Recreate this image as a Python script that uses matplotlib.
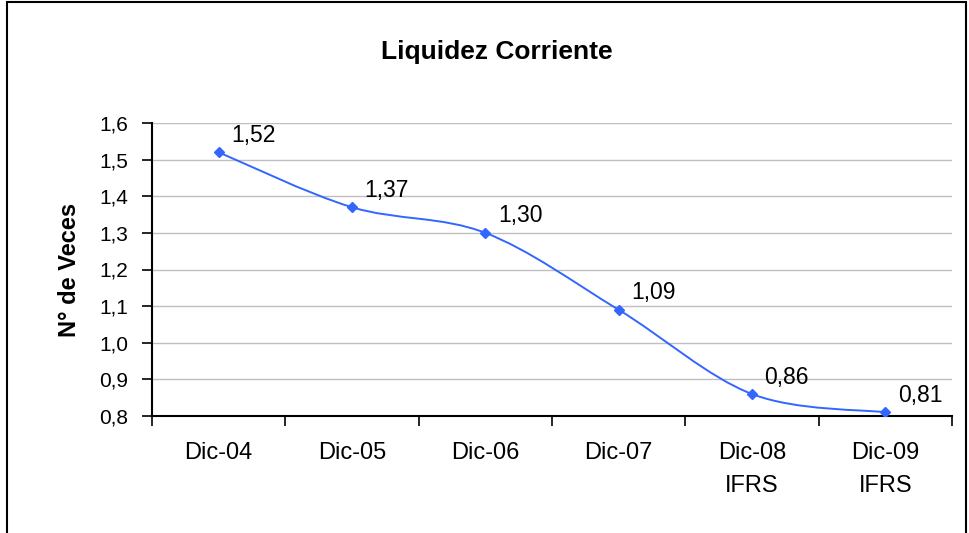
import matplotlib
matplotlib.use("Agg")
import matplotlib.pyplot as plt
from matplotlib.path import Path
from matplotlib.patches import PathPatch, Rectangle
from matplotlib.ticker import FuncFormatter, FixedLocator

categories = ["Dic-04", "Dic-05", "Dic-06", "Dic-07", "Dic-08\nIFRS", "Dic-09\nIFRS"]
values = [1.52, 1.37, 1.30, 1.09, 0.86, 0.81]
title = "Liquidez Corriente"
ylabel = "N° de Veces"

blue = "#3366FF"

plt.rcParams['font.family'] = ['Liberation Sans', 'DejaVu Sans']

fig = plt.figure(figsize=(9.7, 5.33), dpi=100)
ax = fig.add_axes([152/970, 1-416/533, 800/970, 293/533])

xs = list(range(len(values)))

# smoothed line like the spreadsheet one: cubic bezier segments
verts = [(xs[0], values[0])]
codes = [Path.MOVETO]
n = len(values)
for i in range(n-1):
  p0 = (xs[max(i-1, 0)], values[max(i-1, 0)])
  p1 = (xs[i], values[i])
  p2 = (xs[i+1], values[i+1])
  p3 = (xs[min(i+2, n-1)], values[min(i+2, n-1)])
  c1 = (p1[0] + (p2[0]-p0[0])/6, p1[1] + (p2[1]-p0[1])/6)
  c2 = (p2[0] - (p3[0]-p1[0])/6, p2[1] - (p3[1]-p1[1])/6)
  verts += [c1, c2, p2]
  codes += [Path.CURVE4]*3
ax.add_patch(PathPatch(Path(verts, codes), fill=False, edgecolor=blue, lw=1.4, zorder=3))
ax.plot(xs, values, ls="none", marker="D", ms=5.5, color=blue, zorder=4)

for x, v in zip(xs, values):
  ax.annotate("{:.2f}".format(v).replace(".", ","), (x, v), xytext=(9, 7.5),
              textcoords="offset points", fontsize=16.5, ha="left", va="baseline")

ax.set_xlim(-0.5, n-0.5)
ax.set_ylim(0.8, 1.6)
ax.set_yticks([0.8 + 0.1*i for i in range(9)])
ax.yaxis.set_major_formatter(FuncFormatter(lambda y, p: "{:.1f}".format(y).replace(".", ",")))
ax.set_xticks(xs)
ax.set_xticklabels(categories, fontsize=17, linespacing=1.65)
ax.xaxis.set_minor_locator(FixedLocator([i + 0.5 for i in range(-1, n)]))
ax.tick_params(axis="x", which="major", length=0, pad=19)
ax.tick_params(axis="x", which="minor", length=7, width=1.2, direction="out")
ax.tick_params(axis="y", length=7, width=1.2, direction="out", labelsize=15, pad=10)
ax.yaxis.grid(True, color="#BFBFBF", lw=1)
ax.set_axisbelow(True)
for s in ["top", "right"]:
  ax.spines[s].set_visible(False)
for s in ["left", "bottom"]:
  ax.spines[s].set_linewidth(1.5)

ax.set_ylabel(ylabel, fontsize=17, fontweight="bold", labelpad=13)
fig.text(497/970, 1-52/533, title, fontsize=19, fontweight="bold", ha="center", va="center")

fig.patches.append(Rectangle((7/970, -0.05), 959/970, 1.05 - 2/533, transform=fig.transFigure,
                             fill=False, edgecolor="black", lw=1.5))

fig.savefig("out.png", dpi=100)
